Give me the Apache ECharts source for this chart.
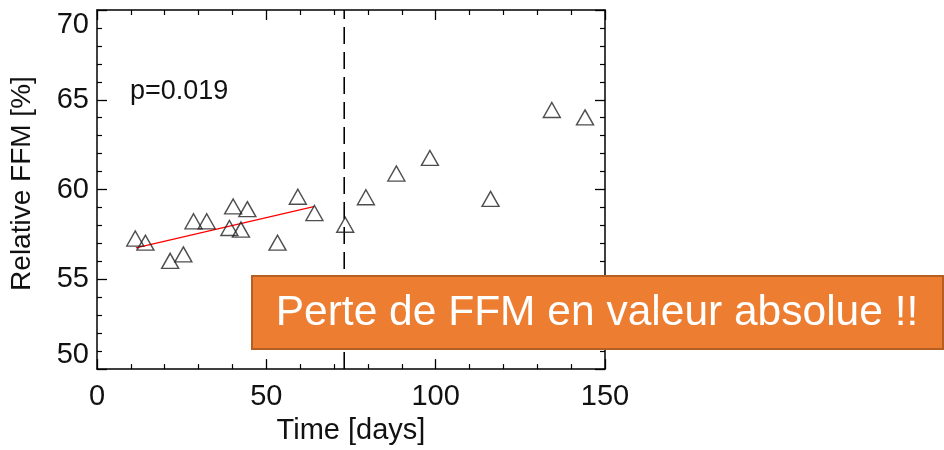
<!DOCTYPE html>
<html>
<head>
<meta charset="utf-8">
<script src="https://cdn.jsdelivr.net/npm/echarts@6/dist/echarts.min.js"></script>
<style>
html,body{margin:0;padding:0;background:#fff;}
#chart{width:944px;height:450px;}
</style>
</head>
<body>
<div id="chart"></div>
<script>
// Data
var days = [11.3, 14.3, 21.6, 25.5, 28.5, 32.4, 39.1, 40.2, 42.5, 44.4, 53.3, 59.3, 64.2, 73.3, 79.4, 88.4, 98.3, 116.2, 134.3, 144.1];
var ffm  = [57.27, 57.04, 56.03, 56.39, 58.23, 58.23, 57.86, 59.06, 57.77, 58.91, 57.04, 59.6, 58.69, 58.04, 59.57, 60.89, 61.76, 59.48, 64.43, 64.02];
var fitX = [11.5, 64.0];
var fitY = [56.75, 59.05];
var cutoffDay = 73;
var xTicks = [0, 50, 100, 150];
var yTicks = [50, 55, 60, 65, 70];
var pText = 'p=0.019';
var boxText = 'Perte de FFM en valeur absolue !!';

var FONT = '"Liberation Sans", Arial, Helvetica, sans-serif';
var chart = echarts.init(document.getElementById('chart'));

var points = days.map(function (d, i) { return [d, ffm[i]]; });
var fitLine = fitX.map(function (d, i) { return [d, fitY[i]]; });
var cutLine = [[cutoffDay, yTicks[0]], [cutoffDay, yTicks[yTicks.length - 1]]];

var axisCommon = {
  axisLine: { show: true, onZero: false, lineStyle: { color: '#000', width: 1.5 } },
  axisTick: { show: true, inside: true, length: 10, lineStyle: { color: '#000', width: 1.3 } },
  minorTick: { show: true, splitNumber: 5, length: 5, lineStyle: { color: '#000', width: 1.2 } },
  splitLine: { show: false },
  minorSplitLine: { show: false }
};

var option = {
  backgroundColor: '#fff',
  animation: false,
  grid: { left: 95, right: 339, top: 10, bottom: 77, containLabel: false },
  xAxis: [
    Object.assign({}, axisCommon, {
      type: 'value', position: 'bottom', min: xTicks[0], max: xTicks[xTicks.length - 1], interval: 50,
      axisLabel: { show: true, margin: 13, fontSize: 29, color: '#111', fontFamily: FONT },
      name: 'Time [days]', nameLocation: 'middle', nameGap: 44,
      nameTextStyle: { fontSize: 29, color: '#111', fontFamily: FONT }
    }),
    Object.assign({}, axisCommon, {
      type: 'value', position: 'top', min: xTicks[0], max: xTicks[xTicks.length - 1], interval: 50,
      axisLabel: { show: false }
    })
  ],
  yAxis: [
    Object.assign({}, axisCommon, {
      type: 'value', position: 'left', min: yTicks[0], max: yTicks[yTicks.length - 1], interval: 5,
      axisLabel: { show: true, margin: 8, fontSize: 29, color: '#111', fontFamily: FONT,
        verticalAlignMaxLabel: 'top', verticalAlignMinLabel: 'bottom' },
      name: 'Relative FFM [%]', nameLocation: 'middle', nameGap: 61,
      nameTextStyle: { fontSize: 28, color: '#111', fontFamily: FONT, padding: [0, 0, 0, 12] }
    }),
    Object.assign({}, axisCommon, {
      type: 'value', position: 'right', min: yTicks[0], max: yTicks[yTicks.length - 1], interval: 5,
      axisLabel: { show: false }
    })
  ],
  series: [
    {
      type: 'line', data: cutLine, symbol: 'none', silent: true,
      lineStyle: { color: '#000', width: 1.6, type: [17, 8] }, z: 2
    },
    {
      type: 'line', data: fitLine, symbol: 'none', silent: true,
      lineStyle: { color: '#ff0000', width: 1.2 }, z: 3
    },
    {
      type: 'scatter', data: points, symbol: 'triangle', symbolSize: [17, 15],
      itemStyle: { color: 'rgba(255,255,255,0)', borderColor: '#222', borderWidth: 1.4 }, z: 4
    }
  ],
  graphic: [
    {
      type: 'text', left: 130, top: 78, z: 10,
      style: { text: pText, fontSize: 27, fill: '#111', fontFamily: FONT }
    },
    {
      type: 'group', left: 251, top: 275, zlevel: 1, z: 100,
      children: [
        {
          type: 'rect', shape: { x: 0, y: 0, width: 691, height: 73 }, zlevel: 1, z: 100,
          style: { fill: '#ED7D31', stroke: '#B55F23', lineWidth: 2 }
        },
        {
          type: 'text', x: 345, y: 37, zlevel: 1, z: 101,
          style: { text: boxText, fontSize: 42.5, fill: '#fff', fontFamily: FONT, align: 'center', verticalAlign: 'middle' }
        }
      ]
    }
  ]
};
chart.setOption(option);
</script>
</body>
</html>
